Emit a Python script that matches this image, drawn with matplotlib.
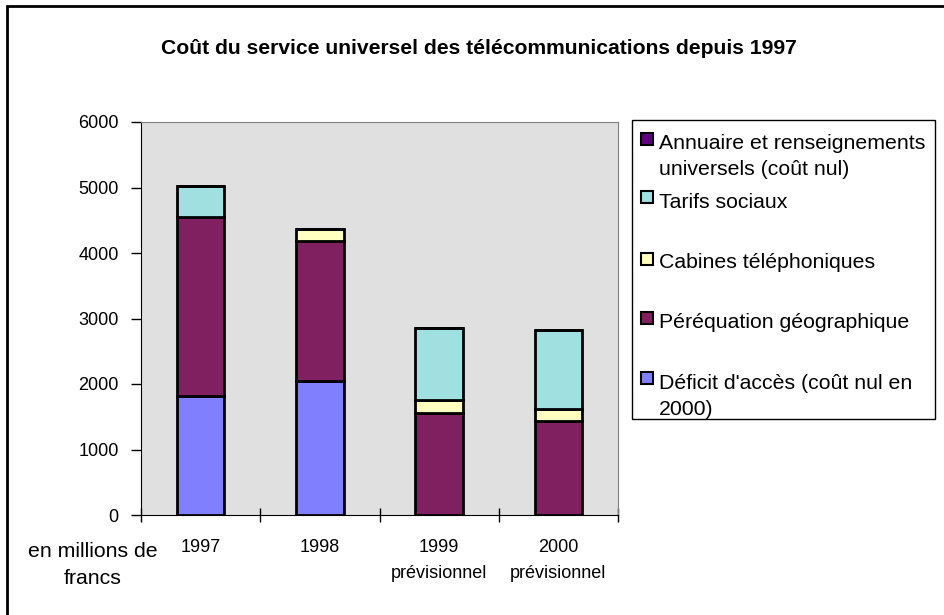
import numpy as np
import matplotlib
matplotlib.use('Agg')
from matplotlib import pyplot as plt
from matplotlib.patches import Rectangle

plt.rcParams['font.family'] = ['Liberation Sans', 'DejaVu Sans']

# Données (millions de francs)
annees = ['1997', '1998', '1999\nprévisionnel', '2000\nprévisionnel']
deficit = [1820, 2040, 0, 0]
perequation = [2730, 2150, 1550, 1440]
cabines = [0, 180, 200, 180]
tarifs = [470, 0, 1100, 1200]
annuaire = [0, 0, 0, 0]

series = [
    ("Déficit d'accès (coût nul en\n2000)", deficit, '#8080FF'),
    ('Péréquation géographique', perequation, '#802060'),
    ('Cabines téléphoniques', cabines, '#FFFFC0'),
    ('Tarifs sociaux', tarifs, '#A0E0E0'),
    ('Annuaire et renseignements\nuniversels (coût nul)', annuaire, '#600080'),
]

W, H = 944, 615
fig = plt.figure(figsize=(W / 100, H / 100), dpi=100)


def fx(px):
    return px / W


def fy(py):
    return 1 - py / H


def lignes(x, y0, texte, ha='left', pas=26, **kw):
    # une ligne par appel, ligne de base à y0, y0 + pas, ...
    for i, l in enumerate(texte.split('\n')):
        fig.text(fx(x), fy(y0 + i * pas), l, ha=ha, va='baseline', **kw)


ax = fig.add_axes([fx(141), fy(515), fx(618) - fx(141), fy(122) - fy(515)])
ax.set_facecolor('#E0E0E0')

x = np.arange(len(annees))
bottom = np.zeros(len(annees))
for nom, vals, col in series:
    ax.bar(x, vals, 0.40, bottom=bottom, color=col, edgecolor='black', linewidth=2, zorder=3)
    bottom += np.array(vals)

ax.set_xlim(-0.5, len(annees) - 0.5)
ax.set_ylim(0, 6000)
ax.set_yticks(np.arange(0, 6001, 1000))
ax.tick_params(axis='y', direction='out', length=7, width=1, pad=9, labelsize=13)
ax.set_xticks(x)
ax.set_xticklabels(annees, fontsize=13, linespacing=1.75)
ax.tick_params(axis='x', length=0, pad=17)
ax.set_xticks(np.arange(-0.5, len(annees)), minor=True)
ax.tick_params(axis='x', which='minor', direction='inout', length=10, width=1)

for s in ['top', 'right']:
    ax.spines[s].set_color('#808080')
ax.spines['left'].set_color('black')
ax.spines['bottom'].set_color('black')

fig.text(fx(479), fy(49), 'Coût du service universel des télécommunications depuis 1997',
         ha='center', va='center', fontsize=15.2, fontweight='bold')
lignes(92.5, 557, 'en millions de\nfrancs', ha='center', pas=27, fontsize=15.3)

# cadre général
fig.add_artist(Rectangle((fx(7), -0.05), 1.2, fy(6) + 0.05, transform=fig.transFigure,
                         fill=False, edgecolor='black', linewidth=2))

# légende
fig.add_artist(Rectangle((fx(632), fy(419)), fx(935) - fx(632), fy(120) - fy(419),
                         transform=fig.transFigure, facecolor='white', edgecolor='black',
                         linewidth=1))
handle_y = [138.5, 197.5, 258.5, 317.5, 377.5]
text_y = [149, 208, 268, 328, 389]
for (nom, vals, col), yh, yt in zip(series[::-1], handle_y, text_y):
    fig.add_artist(Rectangle((fx(641), fy(yh + 6)), fx(12), 12 / H, transform=fig.transFigure,
                             facecolor=col, edgecolor='black', linewidth=1.5))
    lignes(659, yt, nom, pas=26, fontsize=15.3)

fig.savefig('out.png', dpi=100)
